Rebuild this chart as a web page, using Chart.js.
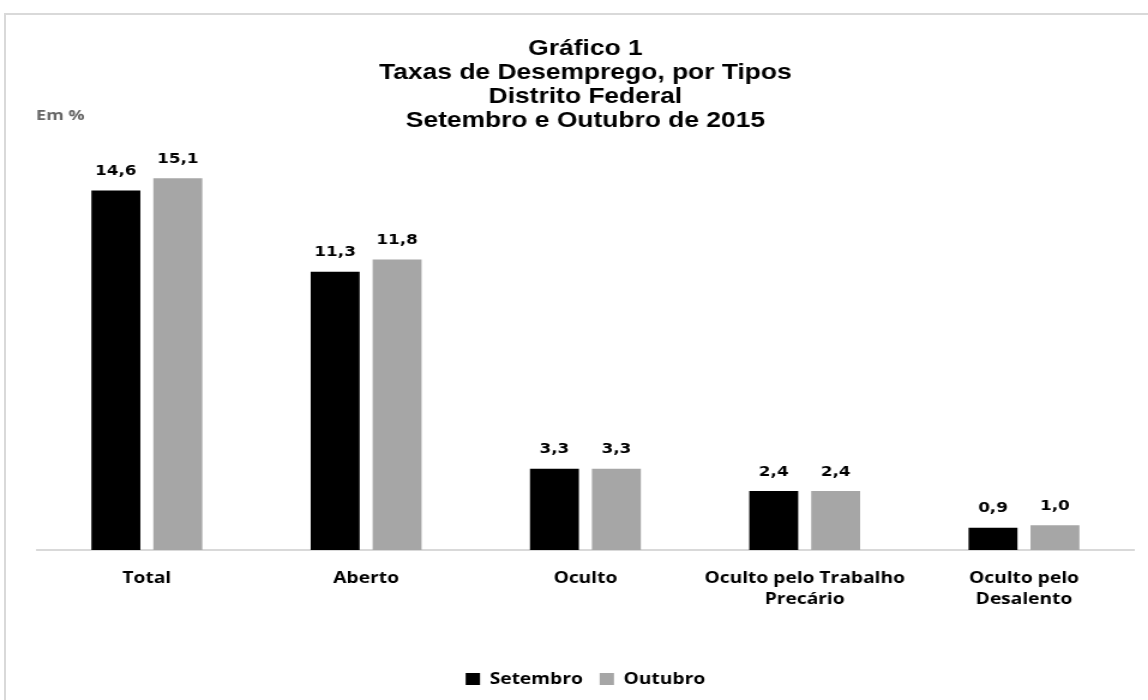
<!DOCTYPE html>
<html>
<head>
<meta charset="utf-8">
<script src="https://cdn.jsdelivr.net/npm/chart.js@4"></script>
<style>
  body { margin: 0; background: #fff; overflow: hidden; }
  .frame { position: absolute; left: 4px; top: 13px; width: 1160px; height: 720px; border: 2px solid #d9d9d9; box-sizing: border-box; }
  /* o grafico original esta esticado na horizontal: desenha em 957px e estica para 1148 */
  .wrap { position: absolute; left: 0; top: 0; width: 957px; height: 700px; transform: scaleX(1.1996); transform-origin: 0 0; }
</style>
</head>
<body>
<div class="frame"></div>
<div class="wrap"><canvas id="desemprego"></canvas></div>
<script>
const categories = ["Total", "Aberto", "Oculto", ["Oculto pelo Trabalho", "Precário"], ["Oculto pelo", "Desalento"]];
const setembro = [14.6, 11.3, 3.3, 2.4, 0.9];
const outubro = [15.1, 11.8, 3.3, 2.4, 1.0];
const titleLines = ["Gráfico 1", "Taxas de Desemprego, por Tipos", "Distrito Federal", "Setembro e Outubro de 2015"];

// rotulos de valor acima das barras, com virgula decimal
const valueLabels = {
  id: "valueLabels",
  afterDatasetsDraw(chart) {
    const ctx = chart.ctx;
    ctx.save();
    ctx.font = "bold 14px 'DejaVu Sans'";
    ctx.fillStyle = "#000";
    ctx.textAlign = "center";
    ctx.textBaseline = "middle";
    chart.data.datasets.forEach((ds, i) => {
      chart.getDatasetMeta(i).data.forEach((bar, j) => {
        ctx.fillText(ds.data[j].toFixed(1).replace(".", ","), bar.x, bar.y - 19);
      });
    });
    ctx.restore();
  }
};

const unitLabel = {
  id: "unitLabel",
  afterDraw(chart) {
    const ctx = chart.ctx;
    ctx.save();
    ctx.font = "bold 15px 'Open Sans'";
    ctx.fillStyle = "#666666";
    ctx.textBaseline = "middle";
    ctx.fillText("Em %", 30, 116);
    ctx.restore();
  }
};

const ctx = document.getElementById("desemprego").getContext("2d");
new Chart(ctx, {
  type: "bar",
  data: {
    labels: categories,
    datasets: [
      { label: "Setembro", data: setembro, backgroundColor: "#000000", categoryPercentage: 0.565, barPercentage: 0.79 },
      { label: "Outubro", data: outubro, backgroundColor: "#a6a6a6", categoryPercentage: 0.565, barPercentage: 0.79 },
    ],
  },
  options: {
    responsive: true,
    maintainAspectRatio: false,
    animation: false,
    layout: { padding: { left: 31, right: 12, top: 37, bottom: 3 } },
    scales: {
      x: {
        grid: { display: false, drawTicks: false },
        border: { color: "#d9d9d9", width: 2 },
        ticks: {
          color: "#000",
          padding: 18,
          font: { family: "'Open Sans'", weight: "bold", size: 16, lineHeight: 1.3 },
          maxRotation: 0,
          autoSkip: false,
        },
        afterFit(scale) { scale.height = 107; },
      },
      y: {
        display: false,
        min: 0,
        max: 16,
      },
    },
    plugins: {
      title: {
        display: true,
        text: titleLines,
        color: "#000",
        font: { family: "'Liberation Sans'", weight: "bold", size: 22, lineHeight: 1.0909 },
        padding: { top: 0, bottom: 23 },
      },
      legend: {
        position: "bottom",
        labels: {
          color: "#000",
          boxWidth: 12,
          boxHeight: 12,
          padding: 14,
          font: { family: "'Open Sans'", weight: "bold", size: 16 },
        },
      },
      tooltip: { enabled: false },
    },
  },
  plugins: [valueLabels, unitLabel],
});
</script>
</body>
</html>
